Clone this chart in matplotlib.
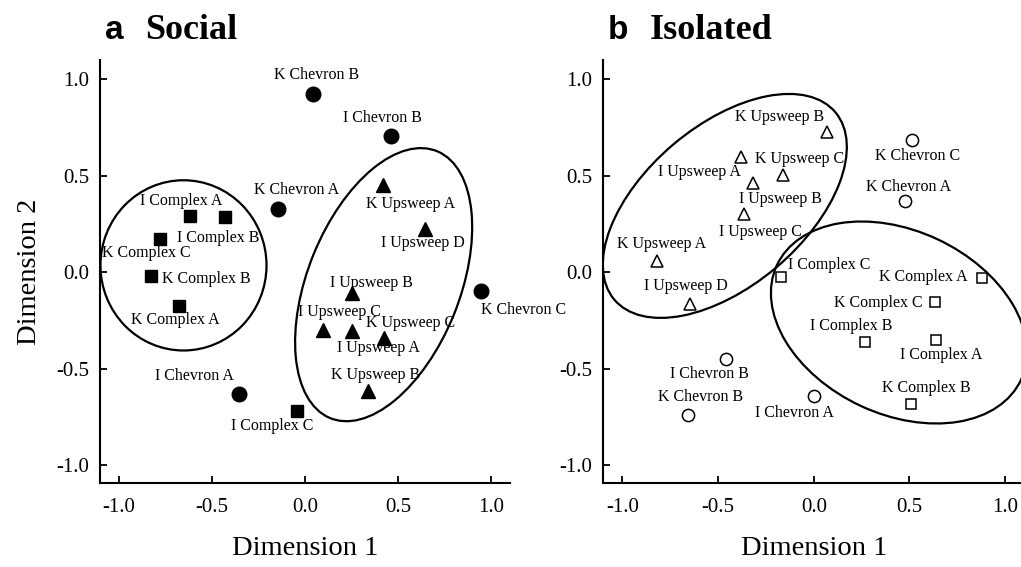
import matplotlib
matplotlib.use("Agg")
import matplotlib.pyplot as plt
from matplotlib.patches import Ellipse

# ---------------- Data ----------------
# Panel a: Social
soc_chev_lab = ['K Chevron B', 'I Chevron B', 'K Chevron A', 'K Chevron C', 'I Chevron A']
soc_chev_x = [0.045, 0.46, -0.143, 0.946, -0.356]
soc_chev_y = [0.926, 0.706, 0.329, -0.099, -0.63]

soc_comp_lab = ['I Complex A', 'I Complex B', 'K Complex C', 'K Complex B', 'K Complex A', 'I Complex C']
soc_comp_x = [-0.615, -0.43, -0.78, -0.828, -0.676, -0.045]
soc_comp_y = [0.29, 0.288, 0.175, -0.02, -0.173, -0.716]

soc_ups_lab = ['K Upsweep A', 'I Upsweep D', 'I Upsweep B', 'I Upsweep C', 'I Upsweep A', 'K Upsweep C', 'K Upsweep B']
soc_ups_x = [0.421, 0.645, 0.251, 0.095, 0.251, 0.426, 0.34]
soc_ups_y = [0.45, 0.225, -0.107, -0.297, -0.303, -0.342, -0.614]

# Panel b: Isolated
iso_chev_lab = ['K Chevron C', 'K Chevron A', 'I Chevron B', 'K Chevron B', 'I Chevron A']
iso_chev_x = [0.515, 0.475, -0.461, -0.658, 0.0]
iso_chev_y = [0.683, 0.372, -0.449, -0.738, -0.643]

iso_comp_lab = ['I Complex C', 'K Complex A', 'K Complex C', 'I Complex B', 'I Complex A', 'K Complex B']
iso_comp_x = [-0.169, 0.881, 0.635, 0.27, 0.637, 0.51]
iso_comp_y = [-0.026, -0.029, -0.152, -0.363, -0.349, -0.683]

iso_ups_lab = ['K Upsweep B', 'K Upsweep C', 'I Upsweep A', 'I Upsweep B', 'I Upsweep C', 'K Upsweep A', 'I Upsweep D']
iso_ups_x = [0.069, -0.381, -0.32, -0.16, -0.364, -0.818, -0.647]
iso_ups_y = [0.727, 0.597, 0.464, 0.502, 0.303, 0.057, -0.164]

ticks = [-1.0, -0.5, 0.0, 0.5, 1.0]
tick_labels = ['-1.0', '-0.5', '0.0', '0.5', '1.0']

# ---------------- Label offsets (pixels) ----------------
soc_chev_off = [(3, 19), (-8, 18), (18, 19), (42, -19), (-44, 18)]
soc_comp_off = [(-9, 15), (-7, -21), (-13, -14), (56, -3), (-4, -14), (-24, -15)]
soc_ups_off = [(27, -19), (-2, -14), (20, 10), (17, 18), (27, -17), (26, 15), (7, 16)]
iso_chev_off = [(5, -16), (4, 14), (-16, -15), (13, 18), (-19, -17)]
iso_comp_off = [(48, 12), (-59, 1), (-57, -1), (-14, 16), (5, -15), (15, 16)]
iso_ups_off = [(-47, 15), (59, -2), (-53, 11), (-3, -24), (16, -18), (4, 17), (-4, 18)]

SERIF = ['Liberation Serif', 'DejaVu Serif']
SANS = ['Liberation Sans', 'DejaVu Sans']

fig = plt.figure(figsize=(10.21, 5.67), dpi=100)
axA = fig.add_axes([100 / 1021, 1 - 482.7 / 567, 410 / 1021, 422.7 / 567])
axB = fig.add_axes([603.3 / 1021, 1 - 482.7 / 567, 421 / 1021, 422.7 / 567])


def style(ax):
    ax.set_xlim(-1.1, 1.1)
    ax.set_ylim(-1.09, 1.10)
    for s in ['top', 'right']:
        ax.spines[s].set_visible(False)
    for s in ['left', 'bottom']:
        ax.spines[s].set_linewidth(1.5)
    ax.set_xticks(ticks)
    ax.set_xticklabels(tick_labels, family=SERIF, fontsize=15)
    ax.set_yticks(ticks)
    ax.set_yticklabels(tick_labels, family=SERIF, fontsize=15)
    ax.tick_params(axis='both', direction='in', length=5, width=1.3)
    ax.tick_params(axis='x', pad=11)
    ax.tick_params(axis='y', pad=8)
    ax.set_xlabel('Dimension 1', family=SERIF, fontsize=20.5, labelpad=14)


def label(ax, labs, xs, ys, offs):
    for lab, x, y, (dx, dy) in zip(labs, xs, ys, offs):
        ax.annotate(lab, (x, y), xytext=(dx, dy), textcoords='offset pixels',
                    ha='center', va='center', family=SERIF, fontsize=11.5,
                    annotation_clip=False, clip_on=False)


# Panel a
style(axA)
axA.plot(soc_chev_x, soc_chev_y, 'o', ms=10.5, color='black', ls='none', clip_on=False)
axA.plot(soc_comp_x, soc_comp_y, 's', ms=9, color='black', ls='none', clip_on=False)
axA.plot(soc_ups_x, soc_ups_y, '^', ms=10, color='black', ls='none', clip_on=False)
label(axA, soc_chev_lab, soc_chev_x, soc_chev_y, soc_chev_off)
label(axA, soc_comp_lab, soc_comp_x, soc_comp_y, soc_comp_off)
label(axA, soc_ups_lab, soc_ups_x, soc_ups_y, soc_ups_off)
axA.add_patch(Ellipse((-0.652, 0.036), 0.891, 0.882, angle=0, fill=False, lw=1.6, ec='black'))
axA.add_patch(Ellipse((0.422, -0.064), 1.497, 0.815, angle=67.1, fill=False, lw=1.6, ec='black'))
axA.set_ylabel('Dimension 2', family=SERIF, fontsize=20.5, labelpad=10)

# Panel b
style(axB)
axB.plot(iso_chev_x, iso_chev_y, 'o', ms=8.8, mfc='white', mec='black', mew=1.1, ls='none')
axB.plot(iso_comp_x, iso_comp_y, 's', ms=7.6, mfc='white', mec='black', mew=1.1, ls='none')
axB.plot(iso_ups_x, iso_ups_y, '^', ms=8.8, mfc='white', mec='black', mew=1.1, ls='none')
label(axB, iso_chev_lab, iso_chev_x, iso_chev_y, iso_chev_off)
label(axB, iso_comp_lab, iso_comp_x, iso_comp_y, iso_comp_off)
label(axB, iso_ups_lab, iso_ups_x, iso_ups_y, iso_ups_off)
axB.add_patch(Ellipse((-0.465, 0.344), 1.509, 0.834, angle=39.9, fill=False, lw=1.6, ec='black'))
axB.add_patch(Ellipse((0.445, -0.26), 1.407, 0.952, angle=-24.8, fill=False, lw=1.6, ec='black'))

# Titles
fig.text(105 / 1021, 1 - 39 / 567, 'a', family=SANS, fontweight='bold', fontsize=24, ha='left', va='baseline')
fig.text(145 / 1021, 1 - 39 / 567, 'Social', family=SERIF, fontweight='bold', fontsize=26, ha='left', va='baseline')
fig.text(608 / 1021, 1 - 39 / 567, 'b', family=SANS, fontweight='bold', fontsize=24, ha='left', va='baseline')
fig.text(650 / 1021, 1 - 39 / 567, 'Isolated', family=SERIF, fontweight='bold', fontsize=26, ha='left', va='baseline')

fig.savefig('out.png', dpi=100)
